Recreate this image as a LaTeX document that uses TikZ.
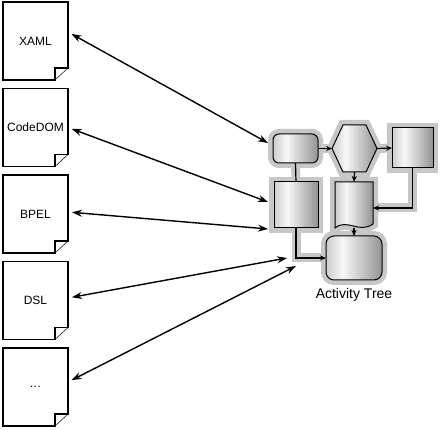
\documentclass[tikz,border=0pt]{standalone}
\usepackage{fontspec}
\setmainfont{Liberation Sans}
\usetikzlibrary{positioning,arrows.meta,backgrounds}
\definecolor{halo}{gray}{0.78}
\pgfdeclarehorizontalshading{boxshade}{100bp}{color(0bp)=(gray!40); color(25bp)=(gray!40); color(40bp)=(gray!6); color(75bp)=(gray!85); color(100bp)=(gray!85)}
\tikzset{
  doc/.style={minimum width=65pt, minimum height=78pt, inner sep=0pt, outer sep=0pt, font=\fontsize{12}{14}\selectfont},
  docline/.style={line width=1.3pt, line join=miter},
  flow/.style={preaction={draw=halo, line width=10pt}, shade, shading=boxshade, draw, line width=1pt},
  box/.style={flow, inner sep=0pt, outer sep=0pt},
  link/.style={<->, line width=1.4pt, shorten <=4pt},
  wire/.style={-{Stealth[length=6pt,width=5pt]}, line width=1.2pt},
  band/.style={draw=halo, line width=9pt},
}
\begin{document}
\begin{tikzpicture}[x=1pt, y=-1pt, >={Stealth[length=10pt,width=7pt]}, node distance=8.5pt]
\useasboundingbox (0,0) rectangle (440,430);
% source documents
\node[doc] (xaml) at (35.5,41) {XAML};
\node[doc, below=of xaml] (codedom) {CodeDOM};
\node[doc, below=of codedom] (bpel) {BPEL};
\node[doc, below=of bpel] (dsl) {DSL};
\node[doc, below=of dsl] (etc) {\dots};
\foreach \n in {xaml,codedom,bpel,dsl,etc}{
  \draw[docline] (\n.north west) -- (\n.north east) -- ([yshift=12pt]\n.south east) -- ([xshift=-13pt,yshift=12pt]\n.south east) -- ([xshift=-13pt]\n.south east) -- (\n.south west) -- cycle;
  \draw[line width=0.5pt] ([xshift=-13pt]\n.south east) -- ([yshift=12pt]\n.south east);
}
% activity tree
\node[box, rounded corners=6pt, minimum width=45pt, minimum height=29pt] (start) at (295.5,148.5) {};
\node[inner sep=0pt, outer sep=0pt, minimum width=45pt, minimum height=47pt] (choice) at (354.5,148.5) {};
\path[flow] (choice.west) -- ([xshift=11pt]choice.north west) -- ([xshift=-11pt]choice.north east) -- (choice.east) -- ([xshift=-11pt]choice.south east) -- ([xshift=11pt]choice.south west) -- cycle;
\node[box, minimum width=41pt, minimum height=40pt] (task) at (412.5,148) {};
\node[box, minimum width=44pt, minimum height=46pt] (act) at (296,205) {};
\node[inner sep=0pt, outer sep=0pt, minimum width=38pt, minimum height=46pt] (page) at (354,205) {};
\path[flow] (page.south west) -- (page.north west) -- (page.north east) -- ([yshift=4pt]page.south east)
  .. controls ([xshift=-14pt,yshift=-6pt]page.south east) and ([xshift=12pt,yshift=10pt]page.south west) .. (page.south west) -- cycle;
\node[box, rounded corners=8pt, minimum width=56pt, minimum height=44pt] (finish) at (354,258) {};
\node[below=5pt of finish, font=\fontsize{14}{16}\selectfont] (title) {Activity Tree};
% connectors inside the tree
\begin{scope}[on background layer]
  \draw[band] (start.east) -- (choice.west);
  \draw[band] (choice.east) -- (task.west);
  \draw[band] (choice.south) -- (page.north);
  \draw[band] (task.south) |- ([yshift=-3pt]page.east);
  \draw[band] (start.south) -- (act.north);
  \draw[band] (act.south) |- (finish.west);
  \draw[band] (page.south) -- (finish.north);
\end{scope}
\draw[wire] (start.east) -- (choice.west);
\draw[wire] (choice.east) -- (task.west);
\draw[wire] (choice.south) -- (page.north);
\draw[wire] (task.south) |- ([yshift=-3pt]page.east);
\draw[line width=1.2pt] (start.south) -- (act.north);
\draw[wire] (act.south) |- (finish.west);
\draw[wire] (page.south) -- (finish.north);
% mappings
\coordinate (in1) at (268,143);
\coordinate (in2) at (268,202);
\coordinate (in3) at (268,229);
\coordinate (in4) at (287,258);
\coordinate (in5) at (296,266);
\draw[link] ([yshift=9pt]xaml.east) -- (in1);
\draw[link] (codedom.east) -- (in2);
\draw[link] ([yshift=2pt]bpel.east) -- (in3);
\draw[link] ([yshift=2.5pt]dsl.east) -- (in4);
\draw[link] ([yshift=5pt]etc.east) -- (in5);
\end{tikzpicture}
\end{document}
